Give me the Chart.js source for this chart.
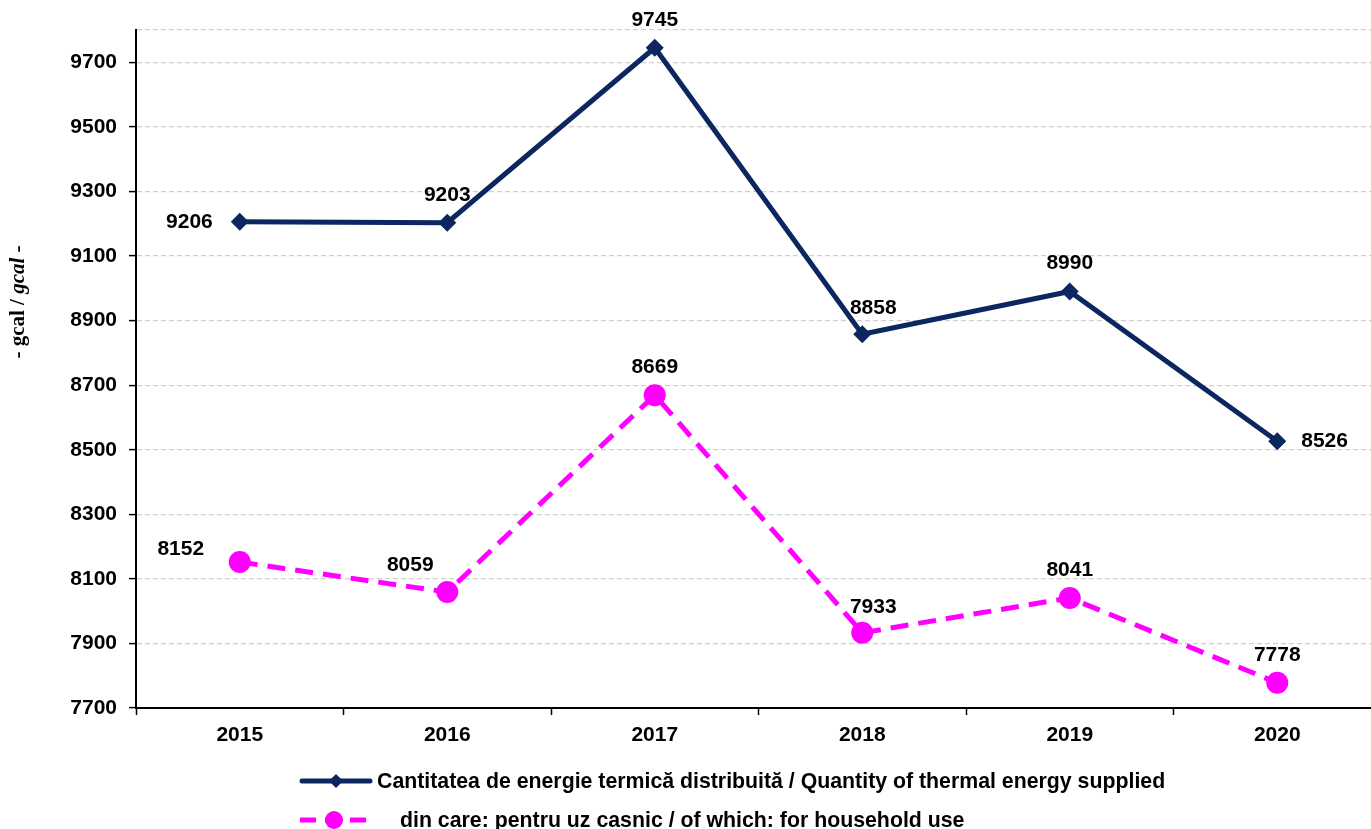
<!DOCTYPE html>
<html lang="ro">
<head>
  <meta charset="UTF-8">
  <title>Energie termică distribuită</title>
  <script src="https://cdn.jsdelivr.net/npm/chart.js"></script>
  <style>
    html, body {
      margin: 0;
      padding: 0;
      background: #fff;
      overflow: hidden;
    }
    #wrap {
      width: 1392px;
      height: 829px;
    }
  </style>
</head>
<body>
  <div id="wrap">
    <canvas id="chart" width="1392" height="829"></canvas>
  </div>

  <script>
    const years = ['2015', '2016', '2017', '2018', '2019', '2020'];
    const supplied = [9206, 9203, 9745, 8858, 8990, 8526];
    const household = [8152, 8059, 8669, 7933, 8041, 7778];
    const yTicks = [7700, 7900, 8100, 8300, 8500, 8700, 8900, 9100, 9300, 9500, 9700, 9800];

    const suppliedLabel = 'Cantitatea de energie termică distribuită / Quantity of thermal energy supplied';
    const householdLabel = 'din care: pentru uz casnic / of which: for household use';

    // where each value label sits relative to its point
    const suppliedPos = ['left', 'top', 'top', 'topright', 'top', 'right'];
    const householdPos = ['topleft', 'topleft2', 'top', 'topright', 'top', 'top'];

    const NAVY = '#0c2660';
    const PINK = '#ff00ff';
    const FONT = '"Liberation Sans", Arial, sans-serif';

    // value labels next to points
    const valueLabels = {
      id: 'valueLabels',
      afterDatasetsDraw(chart) {
        const ctx = chart.ctx;
        const posSets = [suppliedPos, householdPos];
        ctx.save();
        ctx.font = 'bold 21px ' + FONT;
        ctx.fillStyle = '#000';
        ctx.textBaseline = 'middle';
        chart.data.datasets.forEach((ds, i) => {
          chart.getDatasetMeta(i).data.forEach((pt, j) => {
            const txt = String(ds.data[j]);
            const pos = posSets[i][j];
            let x = pt.x, y = pt.y;
            if (pos === 'left') { ctx.textAlign = 'right'; x -= 27; }
            else if (pos === 'right') { ctx.textAlign = 'left'; x += 24; }
            else if (pos === 'topleft') { ctx.textAlign = 'center'; x -= 59; y -= 13; }
            else if (pos === 'topleft2') { ctx.textAlign = 'center'; x -= 37; y -= 27; }
            else if (pos === 'topright') { ctx.textAlign = 'center'; x += 11; y -= 26; }
            else { ctx.textAlign = 'center'; y -= 28; }
            ctx.fillText(txt, x, y);
          });
        });
        ctx.restore();
      }
    };

    // y axis title with italic second unit
    const yTitle = {
      id: 'yTitle',
      afterDraw(chart) {
        const ctx = chart.ctx;
        const serif = '"Liberation Serif", "Times New Roman", serif';
        const parts = [
          ['bold 21px ' + serif, '- gcal / '],
          ['italic bold 21px ' + serif, 'gcal'],
          ['bold 21px ' + serif, ' -']
        ];
        ctx.save();
        let total = 0;
        parts.forEach(p => { ctx.font = p[0]; total += ctx.measureText(p[1]).width; });
        ctx.translate(19, 302);
        ctx.rotate(-Math.PI / 2);
        ctx.fillStyle = '#000';
        ctx.textBaseline = 'middle';
        ctx.textAlign = 'left';
        let x = -total / 2;
        parts.forEach(p => {
          ctx.font = p[0];
          ctx.fillText(p[1], x, 0);
          x += ctx.measureText(p[1]).width;
        });
        ctx.restore();
      }
    };

    // legend drawn below the axis, line + marker samples
    const bottomLegend = {
      id: 'bottomLegend',
      afterDraw(chart) {
        const ctx = chart.ctx;
        ctx.save();
        ctx.font = 'bold 21.3px ' + FONT;
        ctx.fillStyle = '#000';
        ctx.textBaseline = 'middle';
        ctx.textAlign = 'left';

        // row 1
        let y = 781;
        ctx.strokeStyle = NAVY;
        ctx.lineWidth = 5;
        ctx.lineCap = 'round';
        ctx.beginPath();
        ctx.moveTo(302, y);
        ctx.lineTo(370, y);
        ctx.stroke();
        ctx.fillStyle = NAVY;
        ctx.beginPath();
        ctx.moveTo(336, y - 7);
        ctx.lineTo(343, y);
        ctx.lineTo(336, y + 7);
        ctx.lineTo(329, y);
        ctx.closePath();
        ctx.fill();
        ctx.fillStyle = '#000';
        ctx.fillText(chart.data.datasets[0].label, 377, y + 1);

        // row 2
        y = 820;
        ctx.strokeStyle = PINK;
        ctx.lineCap = 'butt';
        ctx.setLineDash([16, 9]);
        ctx.beginPath();
        ctx.moveTo(300, y);
        ctx.lineTo(366, y);
        ctx.stroke();
        ctx.setLineDash([]);
        ctx.fillStyle = PINK;
        ctx.beginPath();
        ctx.arc(334, y, 9, 0, Math.PI * 2);
        ctx.fill();
        ctx.fillStyle = '#000';
        ctx.fillText(chart.data.datasets[1].label, 400, y + 1);
        ctx.restore();
      }
    };

    new Chart(document.getElementById('chart').getContext('2d'), {
      type: 'line',
      data: {
        labels: years,
        datasets: [
          {
            label: suppliedLabel,
            data: supplied,
            borderColor: NAVY,
            backgroundColor: NAVY,
            borderWidth: 5,
            pointStyle: 'rectRot',
            pointRadius: 9,
            pointBorderWidth: 0,
            tension: 0,
            fill: false
          },
          {
            label: householdLabel,
            data: household,
            borderColor: PINK,
            backgroundColor: PINK,
            borderWidth: 5,
            borderDash: [18, 10],
            pointStyle: 'circle',
            pointRadius: 11,
            pointBorderWidth: 0,
            tension: 0,
            fill: false
          }
        ]
      },
      options: {
        responsive: false,
        animation: false,
        layout: { padding: { top: 30, right: 0, left: 0, bottom: 0 } },
        plugins: {
          legend: { display: false },
          tooltip: { enabled: false },
          title: { display: false }
        },
        scales: {
          x: {
            offset: true,
            grid: {
              offset: true,
              drawOnChartArea: false,
              tickColor: '#000',
              tickLength: 7,
              tickWidth: 1.5
            },
            border: { color: '#000', width: 2 },
            ticks: {
              color: '#000',
              padding: 8,
              font: { family: FONT, size: 21, weight: 'bold' }
            },
            afterFit(scale) { scale.height = 121; }
          },
          y: {
            min: 7700,
            max: 9800,
            afterBuildTicks(scale) {
              scale.ticks = yTicks.map(v => ({ value: v }));
            },
            grid: {
              color: '#cfcfcf',
              lineWidth: 1.2,
              tickColor: ctx => (ctx.tick && ctx.tick.value === 9800 ? 'rgba(0,0,0,0)' : '#000'),
              tickLength: 7,
              tickWidth: 1.5
            },
            border: { color: '#000', width: 2, dash: [5, 3] },
            ticks: {
              color: '#000',
              padding: 12,
              font: { family: FONT, size: 21, weight: 'bold' },
              callback: v => (v === 9800 ? '' : String(v))
            },
            afterFit(scale) { scale.width = 136; }
          }
        }
      },
      plugins: [valueLabels, yTitle, bottomLegend]
    });
  </script>
</body>
</html>
